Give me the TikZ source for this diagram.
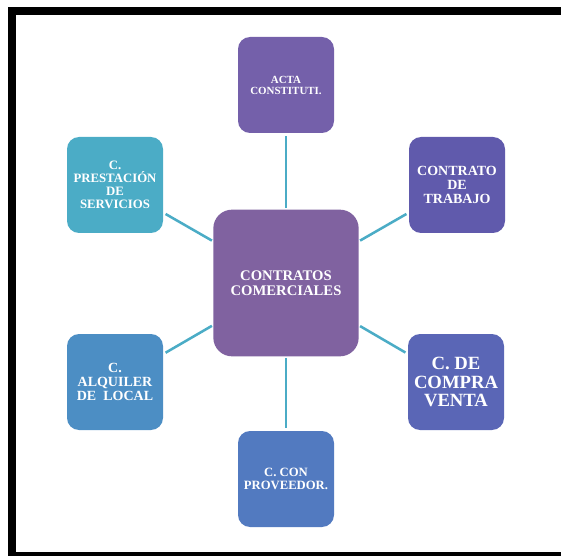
\documentclass[tikz,border=0pt]{standalone}
\usepackage{fontspec}
\setmainfont{Liberation Serif}
\usepackage{tikz}
\usetikzlibrary{positioning,calc}
\definecolor{HubPurple}{RGB}{128,98,160}
\definecolor{ActaViolet}{RGB}{116,96,170}
\definecolor{TrabViolet}{RGB}{96,90,172}
\definecolor{CompraBlue}{RGB}{90,102,182}
\definecolor{ProvBlue}{RGB}{82,122,192}
\definecolor{AlqBlue}{RGB}{76,142,196}
\definecolor{PrestTeal}{RGB}{75,172,198}
\definecolor{LinkTeal}{RGB}{75,172,198}
\tikzset{
  box/.style={rectangle,rounded corners=9pt,minimum width=72pt,minimum height=72pt,
    inner sep=2pt,align=center,text=white},
  hub/.style={box,rounded corners=14pt,minimum width=109pt,minimum height=110pt},
  link/.style={draw=LinkTeal,line width=1.9pt,shorten <=1pt,shorten >=2pt},
}
\tikzset{frame/.style={draw=black,line width=6pt},
  fs/.style={font={\fontsize{#1}{#1pt}\selectfont\bfseries}}}

\begin{document}
\begin{tikzpicture}[x=0.75pt,y=-0.75pt]
\useasboundingbox (0,0) rectangle (561,556);
\clip (0,0) rectangle (561,556);
\draw[frame] (12,11) rectangle (575,556);
% centre and the six contracts
\node[hub,fill=HubPurple,fs=11] (mid) at (286,283) {CONTRATOS\\COMERCIALES};
\node[box,fill=ActaViolet,fs=8.2] (acta) at (286,85) {ACTA\\CONSTITUTI.};
\node[box,fill=TrabViolet,fs=10.5] (trab) at (457,185) {CONTRATO\\DE\\TRABAJO};
\node[box,fill=CompraBlue,fs=14] (compra) at (456,382) {C. DE\\COMPRA\\VENTA};
\node[box,fill=ProvBlue,fs=9.5] (prov) at (286,479) {C. CON\\PROVEEDOR.};
\node[box,fill=AlqBlue,fs=10.5] (alq) at (115,382) {C.\\ALQUILER\\DE\ \ LOCAL};
\node[box,fill=PrestTeal,fs=9.6] (prest) at (115,185) {C.\\PRESTACIÓN\\DE\\SERVICIOS};
\draw[link] (mid) -- (acta);
\draw[link] (mid) -- (trab);
\draw[link] (mid) -- (compra);
\draw[link] (mid) -- (prov);
\draw[link] (mid) -- (alq);
\draw[link] (mid) -- (prest);
\end{tikzpicture}
\end{document}
